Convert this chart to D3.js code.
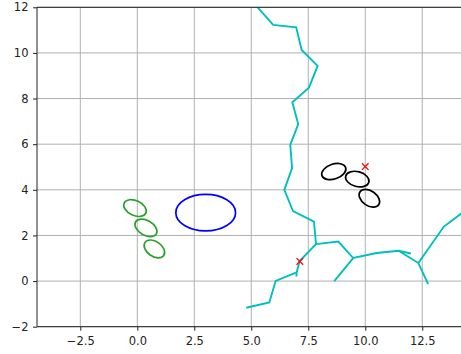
<!DOCTYPE html>
<html>
<head>
<meta charset="utf-8">
<script src="https://cdn.jsdelivr.net/npm/d3@7"></script>
<style>
  body { margin: 0; background: #fff; }
  svg text { font-family: "DejaVu Sans", sans-serif; font-size: 11.5px; fill: #222; }
</style>
</head>
<body>
<svg id="chart" width="461" height="354"></svg>
<script>
const xTicks = [-2.5, 0, 2.5, 5, 7.5, 10, 12.5];
const yTicks = [-2, 0, 2, 4, 6, 8, 10, 12];

// cyan network, as separate polylines
const riverMain = [[5.1,12.2],[5.96,11.23],[6.97,11.12],[7.21,10.13],[7.91,9.43],[7.53,8.48],[6.80,7.84],[7.06,6.88],[6.71,5.97],[6.79,4.95],[6.45,4.0],[6.83,3.07],[7.75,2.61],[7.84,1.62],[7.12,0.88],[6.99,0.38],[6.98,0.2]];
const riverSouthWest = [[4.78,-1.17],[5.79,-0.94],[6.07,0.01],[6.99,0.38]];
const riverEast = [[7.84,1.62],[8.82,1.73],[9.47,1.01],[10.5,1.23],[11.46,1.33],[12.0,1.21]];
const riverSouth = [[9.47,1.01],[8.64,0.0]];
const riverFork = [[11.46,1.33],[12.33,0.79],[12.76,-0.13]];
const riverNorthEast = [[12.33,0.79],[13.45,2.39],[14.6,3.25]];
const rivers = [riverMain, riverSouthWest, riverEast, riverSouth, riverFork, riverNorthEast];

// ellipses: [cx, cy, width, height, angle]
const greenEllipses = [[-0.1,3.2,1.05,0.65,-25],[0.38,2.33,1.05,0.65,-30],[0.75,1.41,1.0,0.65,-35]];
const blackEllipses = [[8.62,4.80,1.1,0.65,19],[9.65,4.47,1.05,0.65,-15],[10.18,3.63,1.0,0.65,-35]];
const blueEllipses = [[3.0,3.0,2.62,1.6,0]];

const redMarks = [[10.0,5.02],[7.13,0.86]];

const svg = d3.select("#chart");
const mLeft = 37, mRight = 461, mTop = 7.3, mBottom = 326.7;

const x = d3.scaleLinear().domain([-4.4, 14.2]).range([mLeft, mRight]);
const y = d3.scaleLinear().domain([-2, 12]).range([mBottom, mTop]);
const pxPerUnit = x(1) - x(0);

svg.append("clipPath").attr("id", "clip")
  .append("rect").attr("x", mLeft).attr("y", mTop)
  .attr("width", mRight - mLeft).attr("height", mBottom - mTop);

// grid
const grid = svg.append("g");
grid.selectAll(".gx").data(xTicks).enter().append("line")
  .attr("x1", d => x(d)).attr("x2", d => x(d))
  .attr("y1", mTop).attr("y2", mBottom)
  .attr("stroke", "#b0b0b0").attr("stroke-width", 1);
grid.selectAll(".gy").data(yTicks).enter().append("line")
  .attr("x1", mLeft).attr("x2", mRight)
  .attr("y1", d => y(d)).attr("y2", d => y(d))
  .attr("stroke", "#b0b0b0").attr("stroke-width", 1);

const plot = svg.append("g").attr("clip-path", "url(#clip)");

const line = d3.line().x(d => x(d[0])).y(d => y(d[1]));
plot.selectAll(".river").data(rivers).enter().append("path")
  .attr("d", line)
  .attr("fill", "none").attr("stroke", "#00bfbf")
  .attr("stroke-width", 1.9).attr("stroke-linejoin", "miter");

function drawEllipses(data, color) {
  plot.selectAll(null).data(data).enter().append("ellipse")
    .attr("cx", 0).attr("cy", 0)
    .attr("rx", d => d[2] / 2 * pxPerUnit)
    .attr("ry", d => d[3] / 2 * pxPerUnit)
    .attr("transform", d => `translate(${x(d[0])},${y(d[1])}) rotate(${-d[4]})`)
    .attr("fill", "none").attr("stroke", color).attr("stroke-width", 1.7);
}
drawEllipses(greenEllipses, "#2ca02c");
drawEllipses(blackEllipses, "#000000");
drawEllipses(blueEllipses, "#0000ff");

// red x markers
const s = 3.3;
const marks = plot.selectAll(".mark").data(redMarks).enter().append("g")
  .attr("transform", d => `translate(${x(d[0])},${y(d[1])})`);
marks.append("path")
  .attr("d", `M${-s},${-s}L${s},${s}M${-s},${s}L${s},${-s}`)
  .attr("stroke", "#ff0000").attr("stroke-width", 1.3);

// axes
const xAxis = d3.axisBottom(x).tickValues(xTicks).tickSize(4).tickPadding(6.5)
  .tickFormat(d => d3.format(".1f")(d).replace("-", "\u2212"));
const yAxis = d3.axisLeft(y).tickValues(yTicks).tickSize(4).tickPadding(4.5)
  .tickFormat(d => String(d).replace("-", "\u2212"));

const gx = svg.append("g").attr("transform", `translate(0,${mBottom})`).call(xAxis);
const gy = svg.append("g").attr("transform", `translate(${mLeft},0)`).call(yAxis);
[gx, gy].forEach(g => {
  g.select(".domain").remove();
  g.selectAll("line").attr("stroke", "#222");
  g.selectAll("text").attr("font-size", "11.5px").attr("fill", "#222")
    .attr("font-family", "DejaVu Sans, sans-serif");
});

// spines
svg.append("line").attr("x1", mLeft).attr("x2", mLeft).attr("y1", mTop).attr("y2", mBottom)
  .attr("stroke", "#222").attr("stroke-width", 1);
svg.append("line").attr("x1", mLeft).attr("x2", mRight).attr("y1", mBottom).attr("y2", mBottom)
  .attr("stroke", "#222").attr("stroke-width", 1);
svg.append("line").attr("x1", mLeft).attr("x2", mRight).attr("y1", mTop).attr("y2", mTop)
  .attr("stroke", "#222").attr("stroke-width", 1);
</script>
</body>
</html>
